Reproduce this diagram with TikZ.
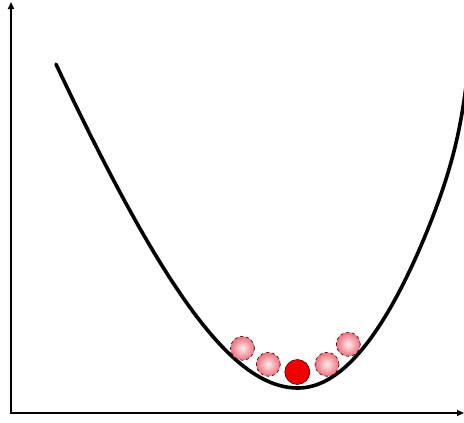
\documentclass[tikz,border=0pt]{standalone}
\usetikzlibrary{arrows.meta}
\definecolor{ballout}{RGB}{236,112,124}
\definecolor{ballin}{RGB}{255,236,238}
\definecolor{redball}{RGB}{238,0,0}
\tikzset{
  axis/.style={line width=1.6pt,-{Triangle[length=7pt,width=6pt]}},
  curveline/.style={line width=3.6pt,line cap=round,line join=round},
  pinkball/.style={circle,minimum size=24pt,inner sep=0pt,draw=black!80!red,dashed,line width=0.6pt,inner color=ballin,outer color=ballout},
  redballs/.style={circle,minimum size=25pt,inner sep=0pt,draw=black!70!red,line width=0.6pt,fill=redball}
}
\begin{document}
\begin{tikzpicture}[x=1pt,y=-1pt]
\useasboundingbox (0,0) rectangle (464,423);
\coordinate (o) at (11,413);
\coordinate (ytop) at (11,2);
\coordinate (xend) at (464,413);
\draw[axis] (o) -- (ytop);
\draw[axis] ([xshift=-0.8pt]o) -- (xend);
\draw[curveline]
  plot[domain=-242:0,samples=80,smooth] ({298+\x},{388-450*(sqrt(1+(\x/173)^2)-1)})
  -- plot[domain=0:168,samples=80,smooth] ({298+\x},{388-(0.0094*\x*\x+25*exp((\x-165)/8))});
\node[pinkball] (b1) at (242.5,348.3) {};
\node[pinkball] (b2) at (268.3,364.3) {};
\node[pinkball] (b4) at (327,364.3) {};
\node[pinkball] (b5) at (348.3,344.3) {};
\node[redballs] (b3) at (297.3,372) {};
\end{tikzpicture}
\end{document}
